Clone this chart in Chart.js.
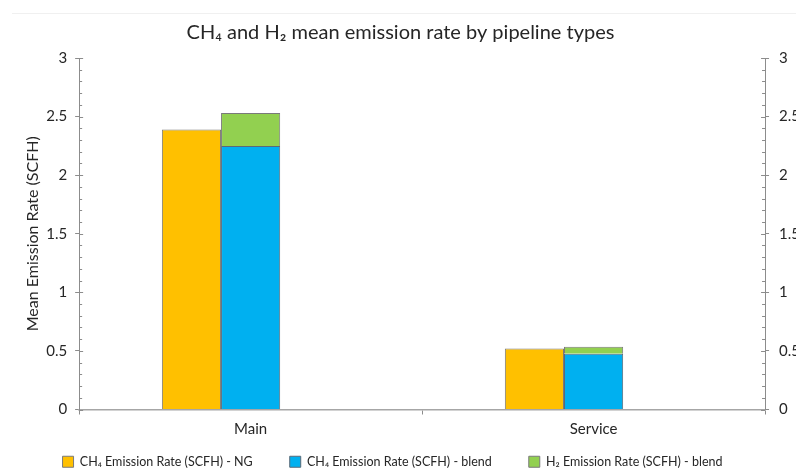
<!DOCTYPE html>
<html lang="en">
<head>
    <meta charset="UTF-8">
    <title>CH4 and H2 mean emission rate by pipeline types</title>
    <style>
        html, body {
            margin: 0;
            padding: 0;
            background: #fff;
            overflow: hidden;
        }
        .frame {
            position: relative;
            width: 810px;
            height: 476px;
        }
        .frame-line {
            position: absolute;
            top: 13px;
            left: 12px;
            right: 0;
            height: 1px;
            background: #f0f0f0;
        }
    </style>
    <script src="https://cdn.jsdelivr.net/npm/chart.js"></script>
</head>
<body>
    <div class="frame">
        <div class="frame-line"></div>
        <canvas id="emissionChart"></canvas>
    </div>
    <script>
        // values
        const categories = ['Main', 'Service'];
        const ch4NG = [2.39, 0.52];
        const ch4Blend = [2.25, 0.475];
        const h2Blend = [0.28, 0.06];
        const spacer = [0, 0]; // empty third slot, keeps bars left of centre like the original

        const fontFamily = "Lato, 'Open Sans', 'DejaVu Sans', sans-serif";
        const axisGray = '#8c8c8c';
        const textColor = '#262626';

        // inward major ticks and minor ticks (every 0.1) on both value axes
        const axisTicks = {
            id: 'axisTicks',
            afterDraw(chart) {
                const ctx = chart.ctx;
                ctx.save();
                ctx.strokeStyle = axisGray;
                ctx.lineWidth = 1;
                ['y', 'y2'].forEach(id => {
                    const s = chart.scales[id];
                    const x = id === 'y' ? s.right : s.left;
                    const dir = id === 'y' ? 1 : -1;
                    for (let i = 0; i <= 30; i++) {
                        const py = Math.round(s.getPixelForValue(i / 10)) + 0.5;
                        const len = i % 5 === 0 ? 4 : 3;
                        ctx.beginPath();
                        ctx.moveTo(x, py);
                        ctx.lineTo(x + dir * len, py);
                        ctx.stroke();
                    }
                });
                ctx.restore();
            }
        };

        // draw a layout box a little off its slot
        function nudge(box, method, dx, dy) {
            const orig = box[method];
            box[method] = function (...args) {
                this.left += dx; this.right += dx; this.top += dy;
                orig.apply(this, args);
                this.left -= dx; this.right -= dx; this.top -= dy;
            };
        }

        // legend padding is shared by the horizontal gaps and the vertical space;
        // wide gaps are wanted, so give the extra height back to the plot
        const LEGEND_TRIM = 28;
        const boxTweaks = {
            id: 'boxTweaks',
            afterInit(chart) {
                const legend = chart.legend;
                const fit = legend.fit;
                legend.fit = function () {
                    fit.call(this);
                    this.height -= LEGEND_TRIM;
                };
                nudge(legend, 'draw', -20, -26);
                nudge(chart.titleBlock, 'draw', -12, 0);
            },
            afterUpdate(chart) {
                const y = chart.scales.y;
                if (!y._nudged) {
                    nudge(y, 'drawTitle', 8, 0);
                    y._nudged = true;
                }
            }
        };

        const plainNumber = value => String(value);

        const ctx = document.getElementById('emissionChart').getContext('2d');
        new Chart(ctx, {
            type: 'bar',
            data: {
                labels: categories,
                datasets: [
                    {
                        label: 'CH\u2084 Emission Rate (SCFH) - NG',
                        data: ch4NG,
                        stack: 'ng',
                        backgroundColor: '#FFC000',
                        borderColor: '#7a7a7a',
                        borderWidth: 1
                    },
                    {
                        label: 'CH\u2084 Emission Rate (SCFH) - blend',
                        data: ch4Blend,
                        stack: 'blend',
                        backgroundColor: '#00B0F0',
                        borderColor: '#5a6a78',
                        borderWidth: 1
                    },
                    {
                        label: 'H\u2082 Emission Rate (SCFH) - blend',
                        data: h2Blend,
                        stack: 'blend',
                        backgroundColor: '#92D050',
                        borderColor: '#7a7a7a',
                        borderWidth: 1
                    },
                    {
                        label: 'spacer',
                        data: spacer,
                        stack: 'gap',
                        backgroundColor: 'rgba(0,0,0,0)',
                        borderWidth: 0
                    }
                ]
            },
            options: {
                responsive: true,
                maintainAspectRatio: false,
                animation: false,
                layout: {
                    padding: { left: 15, right: 0, top: 0, bottom: 0 }
                },
                datasets: {
                    bar: {
                        categoryPercentage: 0.5175,
                        barPercentage: 1
                    }
                },
                plugins: {
                    title: {
                        display: true,
                        text: 'CH\u2084 and H\u2082 mean emission rate by pipeline types',
                        color: textColor,
                        font: { family: fontFamily, size: 20, weight: 'normal' },
                        padding: { top: 21, bottom: 13 }
                    },
                    legend: {
                        position: 'bottom',
                        labels: {
                            color: textColor,
                            font: { family: fontFamily, size: 12.5 },
                            boxWidth: 11,
                            boxHeight: 11,
                            padding: 37,
                            filter: item => item.text !== 'spacer'
                        }
                    },
                    tooltip: { enabled: false }
                },
                scales: {
                    x: {
                        stacked: true,
                        grid: {
                            offset: true,
                            drawOnChartArea: false,
                            drawTicks: true,
                            tickLength: 5,
                            color: axisGray
                        },
                        border: { display: true, color: '#a6a6a6', width: 1.5 },
                        ticks: {
                            color: textColor,
                            font: { family: fontFamily, size: 15 },
                            padding: 6
                        }
                    },
                    y: {
                        position: 'left',
                        stacked: true,
                        min: 0,
                        max: 3,
                        ticks: {
                            stepSize: 0.5,
                            callback: plainNumber,
                            color: textColor,
                            font: { family: fontFamily, size: 15 },
                            padding: 8
                        },
                        grid: {
                            drawOnChartArea: false,
                            drawTicks: true,
                            tickLength: 4,
                            color: axisGray
                        },
                        border: { display: true, color: axisGray },
                        title: {
                            display: true,
                            text: 'Mean Emission Rate (SCFH)',
                            color: textColor,
                            font: { family: fontFamily, size: 16 },
                            padding: { top: 0, bottom: 4 }
                        }
                    },
                    y2: {
                        position: 'right',
                        min: 0,
                        max: 3,
                        ticks: {
                            stepSize: 0.5,
                            callback: plainNumber,
                            color: textColor,
                            font: { family: fontFamily, size: 15 },
                            padding: 10
                        },
                        grid: {
                            drawOnChartArea: false,
                            drawTicks: true,
                            tickLength: 4,
                            color: axisGray
                        },
                        border: { display: true, color: axisGray }
                    }
                }
            },
            plugins: [axisTicks, boxTweaks]
        });
    </script>
</body>
</html>
